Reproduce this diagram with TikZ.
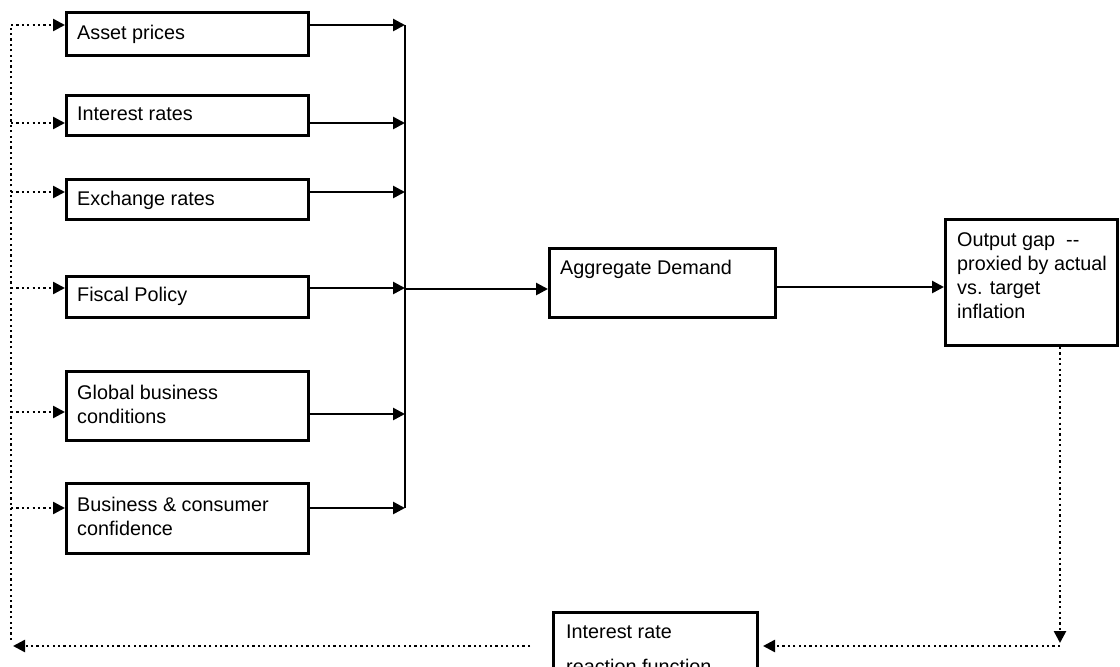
\documentclass[tikz,border=0pt]{standalone}
\usepackage{fontspec}
\setmainfont{Liberation Sans}
\usetikzlibrary{arrows.meta}
\tikzset{
  box/.style={draw, line width=3pt, inner sep=0pt, anchor=north west},
  txt/.style={inner sep=0pt, anchor=north west, align=left, font=\fontsize{19.8}{24}\selectfont},
  arr/.style={line width=2.6pt, -{Triangle[length=12pt,width=12pt]}},
  dotline/.style={line width=2.5pt, dash pattern=on 2.2pt off 3.2pt},
  dotarr/.style={dotline, -{Triangle[length=12pt,width=12pt]}},
}
\begin{document}
\begin{tikzpicture}[x=1pt,y=-1pt]
\useasboundingbox (0,0) rectangle (1120,667);
\clip (0,0) rectangle (1120,667);

% boxes
\node[box, minimum width=242pt, minimum height=43pt] (asset) at (65,11) {};
\node[box, minimum width=242pt, minimum height=40pt] (interest) at (65,94) {};
\node[box, minimum width=242pt, minimum height=40pt] (exch) at (65,178) {};
\node[box, minimum width=242pt, minimum height=41pt] (fiscal) at (65,275) {};
\node[box, minimum width=242pt, minimum height=69pt] (global) at (65,370) {};
\node[box, minimum width=242pt, minimum height=70pt] (busi) at (65,482) {};
\node[box, minimum width=226pt, minimum height=69pt] (ad) at (548,247) {};
\node[box, minimum width=172pt, minimum height=126pt] (gap) at (944,218) {};
\node[box, minimum width=204pt, minimum height=80pt] (irrf) at (552,611) {};

% texts
\node[txt] (asset-t) at ([shift={(12,14)}]asset.north west) {Asset prices};
\node[txt] (interest-t) at ([shift={(12,13)}]interest.north west) {Interest rates};
\node[txt] (exch-t) at ([shift={(12,13)}]exch.north west) {Exchange rates};
\node[txt] (fiscal-t) at ([shift={(12,12)}]fiscal.north west) {Fiscal Policy};
\node[txt] (global-t) at ([shift={(12,15)}]global.north west) {Global business\\conditions};
\node[txt] (busi-t) at ([shift={(12,15)}]busi.north west) {Business \& consumer\\confidence};
\node[txt] (ad-t) at ([shift={(12,13)}]ad.north west) {Aggregate Demand};
\node[txt] (gap-t) at ([shift={(13,14)}]gap.north west) {Output gap\ \ -{}-\\proxied by actual\\vs. target\\inflation};
\node[txt] (irrf-t) at ([shift={(14,14)}]irrf.north west) {Interest rate\\[11pt]reaction function};

% collecting bus
\coordinate (bt) at (405,25);
\coordinate (bb) at (405,508);
\draw[line width=2.6pt] (bt) -- (bb);

\draw[arr] (asset.east |- 0,25) -- (bt |- 0,25);
\draw[arr] (interest.east |- 0,123) -- (bt |- 0,123);
\draw[arr] (exch.east |- 0,192) -- (bt |- 0,192);
\draw[arr] (fiscal.east |- 0,288) -- (bt |- 0,288);
\draw[arr] (global.east |- 0,414) -- (bt |- 0,414);
\draw[arr] (busi.east |- 0,508) -- (bb);

\draw[arr] (bt |- 0,289) -- (ad.west |- 0,289);
\draw[arr] (ad.east |- 0,287) -- (gap.west |- 0,287);

% feedback loop
\coordinate (c1) at (1060,646);
\coordinate (c1a) at (1060,643);
\draw[dotarr] (gap.south -| c1) -- (c1a);
\draw[dotarr, shorten >=4pt] (c1) -- (irrf.east |- c1);
\coordinate (c2) at (13,646);
\draw[dotarr, shorten <=22pt] (irrf.west |- c1) -- (c2);

\coordinate (lt) at (11,25);
\coordinate (lb) at (11,640);
\draw[dotline] (lb) -- (lt);
\draw[dotarr] (lt) -- (asset.west |- lt);
\draw[dotarr] (lt |- 0,123) -- (interest.west |- 0,123);
\draw[dotarr] (lt |- 0,192) -- (exch.west |- 0,192);
\draw[dotarr] (lt |- 0,288) -- (fiscal.west |- 0,288);
\draw[dotarr] (lt |- 0,412) -- (global.west |- 0,412);
\draw[dotarr] (lt |- 0,508) -- (busi.west |- 0,508);
\end{tikzpicture}
\end{document}
